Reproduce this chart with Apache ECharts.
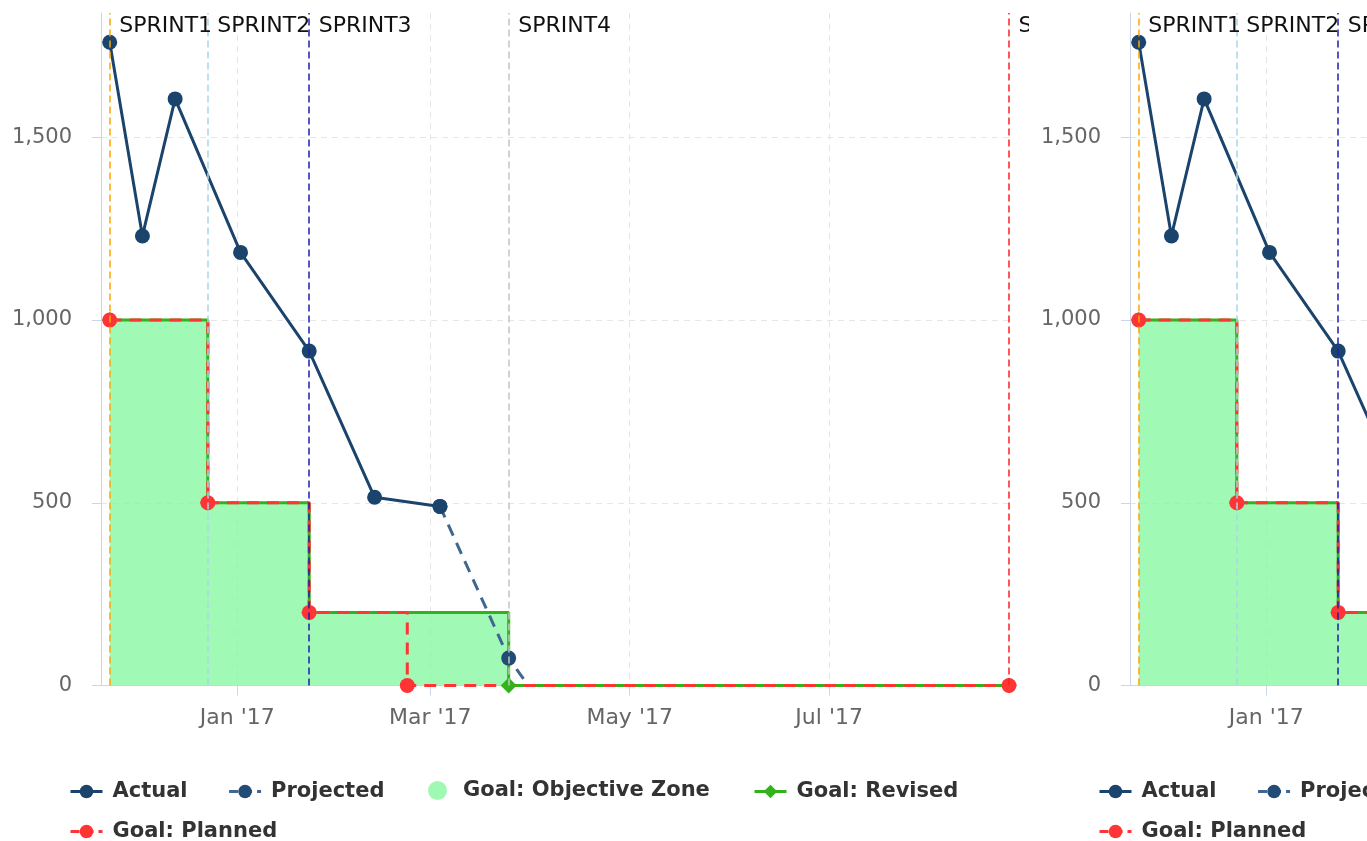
<!DOCTYPE html>
<html>
<head>
<meta charset="utf-8">
<title>Sprint Burndown</title>
<script src="https://cdn.jsdelivr.net/npm/echarts@6/dist/echarts.min.js"></script>
<style>
  html, body { margin: 0; padding: 0; width: 1367px; height: 841px; overflow: hidden; background: #ffffff; }
  .chart { position: absolute; top: 0; width: 1029px; height: 841px; }
</style>
</head>
<body>
<div id="chartA" class="chart" style="left:0px"></div>
<div id="chartB" class="chart" style="left:1029px"></div>
<script>
// ---- burndown data ----
const actualDates = ['2016-11-23', '2016-12-03', '2016-12-13', '2017-01-02', '2017-01-23', '2017-02-12', '2017-03-04'];
const actualValues = [1760, 1230, 1605, 1185, 915, 515, 490];

const projectedDates = ['2017-03-04', '2017-03-25', '2017-03-31'];
const projectedValues = [490, 75, 0];

const plannedDates = ['2016-11-23', '2016-12-23', '2017-01-23', '2017-02-22', '2017-08-25'];
const plannedValues = [1000, 500, 200, 0, 0];

const revisedDates = ['2016-11-23', '2016-12-23', '2017-01-23', '2017-03-25', '2017-08-25'];
const revisedValues = [1000, 500, 200, 0, 0];

const sprintNames = ['SPRINT1', 'SPRINT2', 'SPRINT3', 'SPRINT4', 'SPRINT5'];
const sprintDates = ['2016-11-23', '2016-12-23', '2017-01-23', '2017-03-25', '2017-08-25'];
const sprintColors = ['#ffa500', '#a9d6e6', '#1e1eb0', '#c4c4c4', '#ff2020'];

const xTickDates = ['2017-01-01', '2017-03-01', '2017-05-01', '2017-07-01'];
const xTickLabels = ["Jan '17", "Mar '17", "May '17", "Jul '17"];
const yTicks = [0, 500, 1000, 1500];

// ---- helpers ----
const FONT = 'DejaVu Sans';
const DAY = 24 * 3600 * 1000;
const toTs = s => { const [y, m, d] = s.split('-').map(Number); return Date.UTC(y, m - 1, d); };
const pairs = (dates, vals) => dates.map((d, i) => [toTs(d), vals[i]]);
const xTicks = xTickDates.map(toTs);
const xMin = toTs('2016-11-20') + DAY / 3;
const xMax = toTs('2017-08-25');
const yMax = 1840;
const gridDash = [6, 5];
const legendDash = [9, 5];

function xLabel(v) {
  const i = xTicks.findIndex(t => Math.abs(t - v) < DAY / 2);
  return i >= 0 ? xTickLabels[i] : '';
}

function buildOption() {
  const legendBase = {
    orient: 'horizontal',
    itemWidth: 32,
    itemHeight: 17,
    itemGap: 40,
    selectedMode: false,
    lineStyle: { width: 3 },
    textStyle: { fontFamily: FONT, fontSize: 21, fontWeight: 'bold', color: '#333333', padding: [0, 0, 0, 5] }
  };
  return {
    animation: false,
    textStyle: { fontFamily: FONT },
    grid: { left: 101, right: 20, top: 13, bottom: 155.5, containLabel: false, outerBoundsMode: 'none' },
    xAxis: {
      type: 'value',
      min: xMin,
      max: xMax,
      scale: true,
      axisLine: { show: true, onZero: false, lineStyle: { color: '#ccd6eb', width: 1 } },
      axisTick: { show: true, length: 10, lineStyle: { color: '#ccd6eb', width: 1 }, customValues: xTicks },
      axisLabel: { show: true, customValues: xTicks, formatter: xLabel, color: '#666666', fontSize: 22, fontFamily: FONT, margin: 22 },
      splitLine: { show: true, lineStyle: { color: '#e6e6e6', width: 1, type: gridDash } },
      minorTick: { show: false },
      minorSplitLine: { show: false }
    },
    yAxis: {
      type: 'value',
      min: 0,
      max: yMax,
      interval: 500,
      axisLine: { show: true, lineStyle: { color: '#ccd6eb', width: 1 } },
      axisTick: { show: true, length: 9, lineStyle: { color: '#ccd6eb', width: 1 }, customValues: yTicks },
      axisLabel: { show: true, customValues: yTicks, formatter: v => v.toLocaleString('en-US'), color: '#666666', fontSize: 21, fontFamily: FONT, margin: 29 },
      splitLine: { show: true, lineStyle: { color: '#e6e6e6', width: 1, type: gridDash } }
    },
    legend: [
      Object.assign({}, legendBase, {
        left: 64, top: 776,
        data: ['Actual', { name: 'Projected', lineStyle: { type: legendDash } }]
      }),
      Object.assign({}, legendBase, {
        left: 423, top: 775, itemWidth: 19, itemHeight: 19,
        data: [{ name: 'Goal: Objective Zone', icon: 'circle' }],
        textStyle: Object.assign({}, legendBase.textStyle, { padding: [0, 0, 0, 11] })
      }),
      Object.assign({}, legendBase, { left: 748, top: 776, data: ['Goal: Revised'] }),
      Object.assign({}, legendBase, {
        left: 64, top: 816,
        data: [{ name: 'Goal: Planned', lineStyle: { type: legendDash } }]
      })
    ],
    series: [
      {
        // sprint boundaries with their names along the top
        name: 'Sprints',
        type: 'line',
        data: [],
        silent: true,
        markLine: {
          silent: true,
          symbol: 'none',
          animation: false,
          label: { show: false },
          data: sprintDates.map((d, i) => ({
            xAxis: toTs(d),
            lineStyle: { color: sprintColors[i], type: [7, 4], width: 1.5 }
          }))
        },
        markPoint: {
          silent: true,
          animation: false,
          symbol: 'rect',
          symbolSize: 1,
          itemStyle: { color: 'rgba(0,0,0,0)' },
          label: {
            show: true, position: 'right', distance: 9, offset: [0, 13],
            color: '#111111', fontSize: 22, fontFamily: FONT,
            formatter: p => p.name
          },
          data: sprintDates.map((d, i) => ({ name: sprintNames[i], coord: [toTs(d), yMax] }))
        }
      },
      {
        name: 'Goal: Objective Zone',
        type: 'line',
        step: 'end',
        data: pairs(revisedDates, revisedValues),
        symbol: 'none',
        itemStyle: { color: '#9ff9b3' },
        lineStyle: { width: 0, opacity: 0 },
        areaStyle: { color: '#80f79b', opacity: 0.75 },
        emphasis: { disabled: true }
      },
      {
        name: 'Goal: Revised',
        type: 'line',
        step: 'end',
        data: pairs(revisedDates, revisedValues),
        symbol: 'diamond',
        symbolSize: 16,
        showAllSymbol: true,
        itemStyle: { color: '#33b31b' },
        lineStyle: { color: '#33b31b', width: 3 },
        emphasis: { disabled: true }
      },
      {
        name: 'Goal: Planned',
        type: 'line',
        step: 'end',
        data: pairs(plannedDates, plannedValues),
        symbol: 'circle',
        symbolSize: 15,
        showAllSymbol: true,
        itemStyle: { color: '#ff3535' },
        lineStyle: { color: '#ff3535', width: 3, type: [12, 8] },
        emphasis: { disabled: true }
      },
      {
        name: 'Projected',
        type: 'line',
        data: pairs(projectedDates, projectedValues).map((p, i, arr) =>
          i === arr.length - 1 ? { value: p, symbol: 'none' } : { value: p }),
        symbol: 'circle',
        symbolSize: 15,
        showAllSymbol: true,
        itemStyle: { color: '#224b75' },
        lineStyle: { color: '#3f6791', width: 3, type: [12, 8] },
        emphasis: { disabled: true }
      },
      {
        name: 'Actual',
        type: 'line',
        data: pairs(actualDates, actualValues),
        symbol: 'circle',
        symbolSize: 15,
        showAllSymbol: true,
        itemStyle: { color: '#1b446d' },
        lineStyle: { color: '#1b446d', width: 3 },
        emphasis: { disabled: true }
      }
    ]
  };
}

['chartA', 'chartB'].forEach(id => {
  const chart = echarts.init(document.getElementById(id), null, { renderer: 'canvas' });
  chart.setOption(buildOption());
});
</script>
</body>
</html>
